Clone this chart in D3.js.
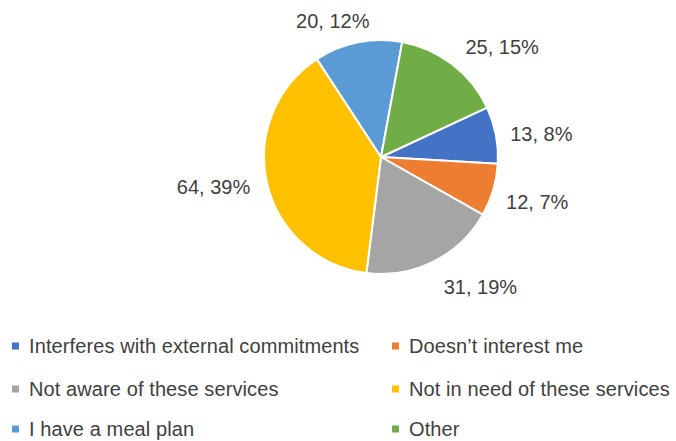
<!DOCTYPE html>
<html><head><meta charset="utf-8">
<script src="https://cdn.jsdelivr.net/npm/d3@7"></script>
<style>body{margin:0;background:#fff}svg{display:block}</style>
</head><body>
<svg id="chart" width="676" height="441"></svg>
<script>
const categories = ["Interferes with external commitments","Doesn\u2019t interest me","Not aware of these services","Not in need of these services","I have a meal plan","Other"];
const values = [13, 12, 31, 64, 20, 25];
const percents = ["8%","7%","19%","39%","12%","15%"];
const colors = ["#4472C4","#ED7D31","#A5A5A5","#FFC000","#5B9BD5","#70AD47"];

// layout
const W = 676, H = 441;
const cx = 381, cy = 157, R = 117;
const startDeg = 65;
const labelGap = 10;
const labelNudge = [[5,3],[4.5,6],[26,8],[-8,-1],[-16,-2],[21,-2]];
const fontFamily = "'Liberation Sans', Arial, sans-serif";
const textColor = "#404040";

const svg = d3.select("#chart");
const g = svg.append("g").attr("transform", `translate(${cx},${cy})`);

const start = startDeg * Math.PI / 180;
const pie = d3.pie().sort(null).value(d => d).startAngle(start).endAngle(start + 2*Math.PI);
const arcs = pie(values);
const arc = d3.arc().innerRadius(0).outerRadius(R);

g.selectAll("path.slice").data(arcs).join("path")
  .attr("class","slice")
  .attr("d", arc)
  .attr("fill", (d,i) => colors[i])
  .attr("stroke", "#fff")
  .attr("stroke-width", 2)
  .attr("stroke-linejoin","round");

// labels
const fs = 20;
arcs.forEach((d,i) => {
  const a = (d.startAngle + d.endAngle)/2;
  const s = Math.sin(a), c = -Math.cos(a);
  const t = g.append("text")
    .attr("font-family", fontFamily)
    .attr("font-size", fs)
    .attr("fill", textColor)
    .attr("text-anchor","middle")
    .attr("dominant-baseline","central")
    .text(`${values[i]}, ${percents[i]}`);
  const w = t.node().getComputedTextLength();
  const h = fs;
  const px = (R + labelGap) * s + s * w/2 + labelNudge[i][0];
  const py = (R + labelGap) * c + c * h/2 + labelNudge[i][1];
  t.attr("x", px).attr("y", py);
});

// legend
const colX = [12, 392];
const rowY = [346, 389, 429];
const mk = 7;
const legendFs = 20;
categories.forEach((name, i) => {
  const col = i % 2, row = Math.floor(i / 2);
  const x = colX[col], y = rowY[row];
  svg.append("rect").attr("x", x).attr("y", y - mk/2).attr("width", mk).attr("height", mk).attr("fill", colors[i]);
  svg.append("text").attr("x", x + 17).attr("y", y)
    .attr("dominant-baseline","central")
    .attr("font-family", fontFamily).attr("font-size", legendFs)
    .attr("letter-spacing", 0.1)
    .attr("fill", textColor).text(name);
});
</script>
</body></html>
